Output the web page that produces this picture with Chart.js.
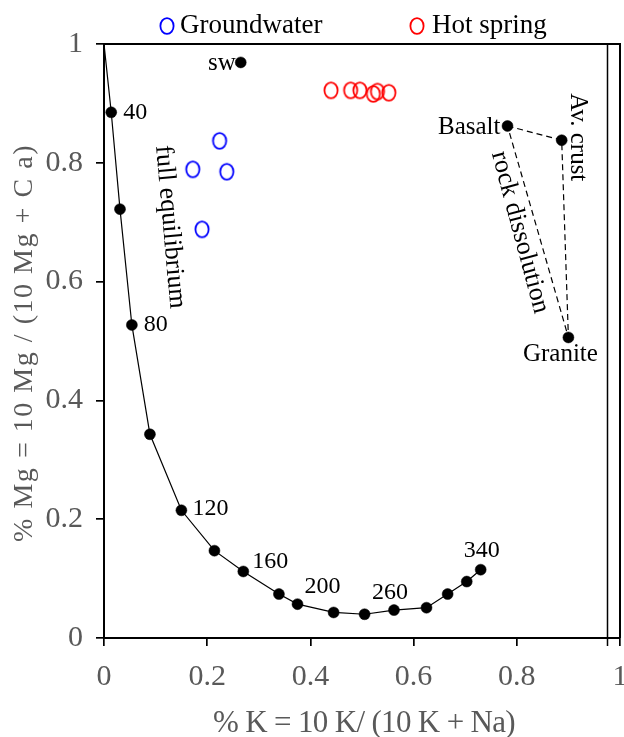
<!DOCTYPE html>
<html>
<head>
<meta charset="utf-8">
<script src="https://cdn.jsdelivr.net/npm/chart.js@4.4.1/dist/chart.umd.min.js"></script>
<style>
  html, body { margin: 0; padding: 0; background: #fff; }
  #wrap { width: 624px; height: 737px; }
</style>
</head>
<body>
<div id="wrap"><canvas id="chart" width="624" height="737"></canvas></div>
<script>
// full equilibrium curve, temperature labels on some of its points
const eqK  = [0.000, 0.014, 0.031, 0.054, 0.089, 0.150, 0.214, 0.270, 0.339, 0.375, 0.445, 0.505, 0.562, 0.625, 0.666, 0.703, 0.730];
const eqMg = [1.000, 0.885, 0.722, 0.527, 0.343, 0.215, 0.147, 0.112, 0.074, 0.057, 0.043, 0.040, 0.047, 0.051, 0.074, 0.095, 0.115];
const tempLabels = ['', '40', '', '80', '', '120', '', '160', '', '200', '', '', '260', '', '', '', '340'];

// samples
const gwK  = [0.224, 0.172, 0.238, 0.190];
const gwMg = [0.837, 0.789, 0.785, 0.688];
const hsK  = [0.440, 0.478, 0.496, 0.522, 0.530, 0.552];
const hsMg = [0.922, 0.922, 0.922, 0.916, 0.920, 0.918];

// rocks and sea water
const rockNames = ['Basalt', 'Av. crust', 'Granite'];
const rockK  = [0.782, 0.887, 0.900];
const rockMg = [0.862, 0.838, 0.506];
const swK  = [0.265];
const swMg = [0.969];

const xTicks = [0, 0.2, 0.4, 0.6, 0.8, 1];
const yTicks = [0, 0.2, 0.4, 0.6, 0.8, 1];
const refLineK = 0.975;

const serif = "'Liberation Serif', 'Times New Roman', serif";
const gray = '#595959';

// open ellipse marker (the original markers are a bit taller than wide)
function ringMarker(color) {
  const c = document.createElement('canvas');
  c.width = 18; c.height = 22;
  const g = c.getContext('2d');
  g.strokeStyle = color;
  g.lineWidth = 1.8;
  g.beginPath();
  g.ellipse(9, 11, 6.6, 7.9, 0, 0, Math.PI * 2);
  g.stroke();
  return c;
}

const pts = (xs, ys) => xs.map((v, i) => ({ x: v, y: ys[i] }));

// stretch a text to a given width with letter spacing
function fitText(ctx, text, width) {
  ctx.letterSpacing = '0px';
  const w = ctx.measureText(text).width;
  ctx.letterSpacing = ((width - w) / text.length) + 'px';
}

const overlay = {
  id: 'overlay',
  afterDraw(chart) {
    const { ctx, chartArea: a, scales: { x, y } } = chart;
    ctx.save();

    // top and right frame, and the extra vertical line
    ctx.strokeStyle = '#000';
    ctx.lineWidth = 2;
    ctx.beginPath();
    ctx.moveTo(a.left, a.top);
    ctx.lineTo(a.right, a.top);
    ctx.lineTo(a.right, a.bottom);
    ctx.stroke();
    ctx.lineWidth = 1.5;
    const rx = Math.round(x.getPixelForValue(refLineK)) + 0.5;
    ctx.beginPath();
    ctx.moveTo(rx, a.top);
    ctx.lineTo(rx, a.bottom + 8);
    ctx.stroke();

    // temperature labels
    const offs = { 1: [12, 0, 'left'], 3: [12, 0, 'left'], 5: [11, -2, 'left'], 7: [9, -10, 'left'],
                   9: [7, -17, 'left'], 12: [-4, -17, 'center'], 16: [1, -19, 'center'] };
    ctx.fillStyle = '#000';
    ctx.font = '24px ' + serif;
    ctx.textBaseline = 'middle';
    tempLabels.forEach((t, i) => {
      if (!t) return;
      const o = offs[i] || [10, 0, 'left'];
      ctx.textAlign = o[2];
      ctx.fillText(t, x.getPixelForValue(eqK[i]) + o[0], y.getPixelForValue(eqMg[i]) + o[1]);
    });

    // point names
    ctx.font = '25px ' + serif;
    ctx.textBaseline = 'alphabetic';
    ctx.textAlign = 'right';
    ctx.fillText('sw', x.getPixelForValue(swK[0]) - 5, y.getPixelForValue(swMg[0]) + 8);
    ctx.fillText(rockNames[0], x.getPixelForValue(rockK[0]) - 7, y.getPixelForValue(rockMg[0]) + 8);
    ctx.textAlign = 'center';
    ctx.fillText(rockNames[2], x.getPixelForValue(rockK[2]) - 8, y.getPixelForValue(rockMg[2]) + 24);

    const rotText = (t, px, py, deg, size) => {
      ctx.save();
      ctx.translate(px, py);
      ctx.rotate(deg * Math.PI / 180);
      ctx.font = size + 'px ' + serif;
      ctx.textAlign = 'center';
      ctx.textBaseline = 'middle';
      ctx.fillText(t, 0, 0);
      ctx.restore();
    };
    rotText(rockNames[1], x.getPixelForValue(rockK[1]) + 16, y.getPixelForValue(rockMg[1]) - 3, 90, 25);
    rotText('full equilibrium', x.getPixelForValue(0.128), y.getPixelForValue(0.692), 85, 26);
    rotText('rock dissolution', x.getPixelForValue(0.806), y.getPixelForValue(0.683), 75, 26);

    // legend
    ctx.font = '27px ' + serif;
    ctx.textAlign = 'left';
    ctx.textBaseline = 'alphabetic';
    ctx.drawImage(ringMarker('#0000ff'), 167 - 9, 26 - 11);
    ctx.fillText('Groundwater', 180, 33);
    ctx.drawImage(ringMarker('#ff0000'), 417 - 9, 26 - 11);
    ctx.fillText('Hot spring', 432, 33);

    // axis titles
    ctx.fillStyle = gray;
    ctx.font = '31px ' + serif;
    ctx.textAlign = 'left';
    fitText(ctx, '% K = 10 K/ (10 K + Na)', 302);
    ctx.fillText('% K = 10 K/ (10 K + Na)', 213, 732);

    ctx.save();
    ctx.translate(25, 343);
    ctx.rotate(-Math.PI / 2);
    ctx.font = '28px ' + serif;
    fitText(ctx, '% Mg = 10 Mg / (10 Mg + C a)', 398);
    ctx.textAlign = 'left';
    ctx.textBaseline = 'middle';
    ctx.fillText('% Mg = 10 Mg / (10 Mg + C a)', -199, 0);
    ctx.restore();

    ctx.restore();
  }
};

const axisBase = {
  type: 'linear',
  min: 0,
  max: 1,
  grid: { drawOnChartArea: false, drawTicks: true, tickLength: 8, color: '#000', lineWidth: 1.7 },
  border: { display: true, color: '#000', width: 2 },
};

const chart = new Chart(document.getElementById('chart'), {
  type: 'scatter',
  data: {
    datasets: [
      {
        label: 'full equilibrium',
        data: pts(eqK, eqMg),
        showLine: true,
        borderColor: '#000',
        borderWidth: 1.2,
        pointRadius: eqK.map((v, i) => i === 0 ? 0 : 5.5),
        pointBackgroundColor: '#000',
        pointBorderColor: '#000',
        pointBorderWidth: 0.5,
      },
      {
        label: 'rocks',
        // closed triangle Basalt - Av. crust - Granite - Basalt
        data: pts(rockK.concat(rockK[0]), rockMg.concat(rockMg[0])),
        showLine: true,
        borderColor: '#000',
        borderWidth: 1.2,
        borderDash: [6, 4],
        pointRadius: [5.5, 5.5, 5.5, 0],
        pointBackgroundColor: '#000',
        pointBorderColor: '#000',
        pointBorderWidth: 0.5,
      },
      {
        label: 'sw',
        data: pts(swK, swMg),
        pointRadius: 5.5,
        pointBackgroundColor: '#000',
        pointBorderColor: '#000',
        pointBorderWidth: 0.5,
      },
      {
        label: 'Groundwater',
        data: pts(gwK, gwMg),
        pointStyle: ringMarker('#0000ff'),
        pointRadius: 8,
      },
      {
        label: 'Hot spring',
        data: pts(hsK, hsMg),
        pointStyle: ringMarker('#ff0000'),
        pointRadius: 8,
      },
    ]
  },
  options: {
    responsive: false,
    animation: false,
    layout: { autoPadding: false, padding: { top: 44, right: 4, left: 0, bottom: 0 } },
    plugins: { legend: { display: false }, tooltip: { enabled: false } },
    scales: {
      x: {
        ...axisBase,
        afterBuildTicks: s => { s.ticks = xTicks.map(v => ({ value: v })); },
        afterFit: s => { s.height = 99; s.paddingLeft = 0; s.paddingRight = 0; },
        ticks: { color: gray, font: { family: serif, size: 30 }, padding: 13, maxRotation: 0, callback: v => String(v) },
      },
      y: {
        ...axisBase,
        afterBuildTicks: s => { s.ticks = yTicks.map(v => ({ value: v })); },
        afterFit: s => { s.width = 104; s.paddingTop = 0; s.paddingBottom = 0; },
        ticks: { color: gray, font: { family: serif, size: 30 }, padding: 13, callback: v => String(v) },
      },
    }
  },
  plugins: [overlay]
});
</script>
</body>
</html>
